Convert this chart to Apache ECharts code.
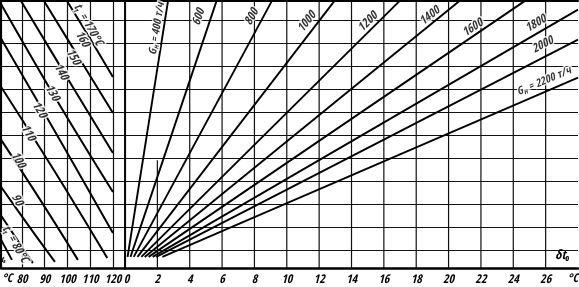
<!DOCTYPE html>
<html><head><meta charset="utf-8">
<script src="https://cdn.jsdelivr.net/npm/echarts@6/dist/echarts.min.js"></script>
<style>html,body{margin:0;padding:0;background:#fff}#c{width:579px;height:287px}</style>
</head><body><div id="c"></div>
<script>
// ---- data ----
// left part: x = t2 (°C), one curve per t1
const t2Ticks = [80, 90, 100, 110, 120];
const t1Names = ['170', '160', '150', '140', '130', '120', '110', '100', '90', '80'];
const t1_170 = [[99.8, 11.83], [109.9, 10.2], [120, 8.52]];
const t1_160 = [[89.7, 11.83], [104.8, 9.4], [120, 6.96]];
const t1_150 = [[79.6, 11.83], [99.8, 8.5], [120, 5.22]];
const t1_140 = [[70.8, 11.7], [95.4, 7.5], [120, 3.52]];
const t1_130 = [[70.8, 10.2], [95.4, 6.0], [120, 1.74]];
const t1_120 = [[70.8, 8.1], [94.5, 4.4], [117.5, 0.65]];
const t1_110 = [[70.8, 5.8], [87.9, 3.2], [104.6, 0.57]];
const t1_100 = [[70.8, 3.75], [82.6, 2.1], [94.5, 0.48]];
const t1_90 = [[70.8, 2.5], [84.8, 0.43]];
const t1_80 = [[70.8, 1.45], [75.6, 0.57]];
const t1Curves = [t1_170, t1_160, t1_150, t1_140, t1_130, t1_120, t1_110, t1_100, t1_90, t1_80];
const t1LabelText = ['t₁ = 170°C', '160', '150', '140', '130', '120', '110', '100', '90', 't₁ = 80°C'];
const t1LabelPos = [[109.0, 10.8], [106.4, 10.17], [102.4, 9.39], [97.1, 8.74], [93.2, 7.83], [87.5, 7.09], [82.6, 6.09], [78.2, 4.91], [77.8, 3.17], [76.9, 1.25]];

// right part: x = δt0, one ray per G_H
const dtTicks = [0, 2, 4, 6, 8, 10, 12, 14, 16, 18, 20, 22, 24, 26];
const dtFullLines = [0, 4, 6, 8, 10, 12, 14, 16, 18, 20, 22, 24, 26];
const gNames = ['400', '600', '800', '1000', '1200', '1400', '1600', '1800', '2000', '2200'];
const rayStart = [[0.16, 0.70], [0.34, 0.70], [0.54, 0.70], [0.77, 0.70], [1.01, 0.70], [1.22, 0.70], [1.46, 0.70], [1.71, 0.70], [1.93, 0.70], [2.31, 0.70]];
const rayEnd = [[2.66, 11.83], [5.66, 11.83], [9.08, 11.83], [12.95, 11.83], [16.98, 11.83], [20.67, 11.83], [24.72, 11.83], [28, 11.45], [28, 10.15], [28, 8.49]];
const gLabelPos = [[1.98, 10.62], [4.57, 11.13], [7.85, 11.13], [11.25, 10.91], [15.02, 10.91], [18.85, 11.17], [21.5, 10.65], [25.4, 10.83], [25.83, 9.91], [25.9, 8.33]];
const gLabelRot = [81, 71, 62, 52, 45, 39, 34, 30, 27, 23];
const dtShortLine = [[2, 0.2174], [2, 4.9]];

// ---- chart ----
const FONT = "'Open Sans Condensed','Roboto Condensed','DejaVu Sans Condensed',sans-serif";
const chart = echarts.init(document.getElementById('c'), null, {renderer: 'canvas'});
const GRID_LS = {color: '#111', width: 1.2};
const gridLine = {show: true, lineStyle: GRID_LS};
const yBase = {type: 'value', min: 0.2174, max: 11.826, splitNumber: 12, axisLabel: {show: false}, axisTick: {show: false}, splitLine: gridLine};
const labelStyle = {color: '#000', fontSize: 12, fontStyle: 'italic', fontWeight: 'bold', fontFamily: FONT, margin: 6};

const series = [];
t1Curves.forEach((d, i) => series.push({
  type: 'line', name: 't1 ' + t1Names[i], xAxisIndex: 0, yAxisIndex: 0, data: d,
  smooth: 0.4, symbol: 'none', silent: true, lineStyle: {color: '#000', width: 2}
}));
gNames.forEach((g, i) => series.push({
  type: 'line', name: 'G ' + g, xAxisIndex: 1, yAxisIndex: 1, data: [rayStart[i], rayEnd[i]],
  symbol: 'none', silent: true, lineStyle: {color: '#000', width: 1.9}
}));
dtFullLines.forEach(d => series.push({
  type: 'line', xAxisIndex: 1, yAxisIndex: 1, data: [[d, 0.2174], [d, 11.826]], symbol: 'none', silent: true, z: 1, lineStyle: GRID_LS
}));
series.push({type: 'line', xAxisIndex: 1, yAxisIndex: 1, data: dtShortLine, symbol: 'none', silent: true, z: 1, lineStyle: GRID_LS});

const txt = (size) => ({fontSize: size, fontStyle: 'italic', fontWeight: 'bold', fontFamily: FONT, color: '#000', textBorderColor: '#fff', textBorderWidth: 3});
const lblCommon = Object.assign({show: true, position: 'inside'}, txt(12),
  {rich: {a: txt(11), s: Object.assign(txt(7.5), {padding: [5, 0, 0, 0]})}});
series.push({
  type: 'scatter', xAxisIndex: 0, yAxisIndex: 0, symbolSize: 1, itemStyle: {color: 'rgba(0,0,0,0)'}, silent: true, z: 5,
  data: t1LabelPos.map((p, i) => ({value: p, label: Object.assign({}, lblCommon, {rotate: -60, formatter: t1LabelText[i]})}))
});
series.push({
  type: 'scatter', xAxisIndex: 1, yAxisIndex: 1, symbolSize: 1, itemStyle: {color: 'rgba(0,0,0,0)'}, silent: true, z: 5,
  data: gLabelPos.map((p, i) => ({value: p, label: Object.assign({}, lblCommon, {rotate: gLabelRot[i],
    formatter: (i === 0 || i === 9) ? '{a|G}{s|н}{a| = ' + gNames[i] + ' т/ч}' : gNames[i]})}))
});

chart.setOption({
  animation: false,
  backgroundColor: '#fff',
  grid: [
    {left: 1, top: 1, width: 124, bottom: 19},
    {left: 125, top: 1, right: 1, bottom: 19}
  ],
  xAxis: [
    {type: 'value', gridIndex: 0, min: 70.8, max: 125.3, splitNumber: 5, position: 'bottom',
     axisLine: {show: true, lineStyle: {color: '#000', width: 2.5}}, axisTick: {show: false},
     axisLabel: Object.assign({}, labelStyle, {showMinLabel: false, showMaxLabel: false,
       formatter: v => t2Ticks.indexOf(v) >= 0 ? String(v) : ''}), splitLine: gridLine},
    {type: 'value', gridIndex: 1, min: 0, max: 28, interval: 2, position: 'bottom',
     axisLine: {show: true, lineStyle: {color: '#000', width: 2.5}}, axisTick: {show: false},
     axisLabel: Object.assign({}, labelStyle, {showMaxLabel: false,
       formatter: v => dtTicks.indexOf(v) >= 0 ? (v === 0 ? '{z|0}' : String(v)) : '',
       rich: {z: {fontSize: 12, fontStyle: 'italic', fontWeight: 'bold', fontFamily: FONT, padding: [0, 0, 0, 3]}}}),
     splitLine: {show: false}},
    {type: 'value', gridIndex: 0, min: 70.8, max: 125.3, position: 'top', axisLine: {show: true, lineStyle: {color: '#000', width: 2}},
     axisTick: {show: false}, axisLabel: {show: false}, splitLine: {show: false}},
    {type: 'value', gridIndex: 1, min: 0, max: 28, position: 'top', axisLine: {show: true, lineStyle: {color: '#000', width: 2}},
     axisTick: {show: false}, axisLabel: {show: false}, splitLine: {show: false}}
  ],
  yAxis: [
    Object.assign({}, yBase, {gridIndex: 0, position: 'left', axisLine: {show: true, lineStyle: {color: '#000', width: 2}}}),
    Object.assign({}, yBase, {gridIndex: 1, position: 'right', axisLine: {show: true, lineStyle: {color: '#000', width: 2}}})
  ],
  graphic: [
    {type: 'text', left: 2, top: 273, style: {text: '°C', fill: '#000', font: 'italic bold 12px ' + FONT}},
    {type: 'text', right: 1, top: 273, style: {text: '°C', fill: '#000', font: 'italic bold 12px ' + FONT}},
    {type: 'text', left: 555, top: 249, style: {text: 'δt₀', fill: '#000', font: 'italic bold 13px ' + FONT}},
    {type: 'text', left: 1, top: 256, style: {text: 't₂', fill: '#000', font: 'italic bold 8px ' + FONT}}
  ],
  series: series
});
</script>
</body></html>
